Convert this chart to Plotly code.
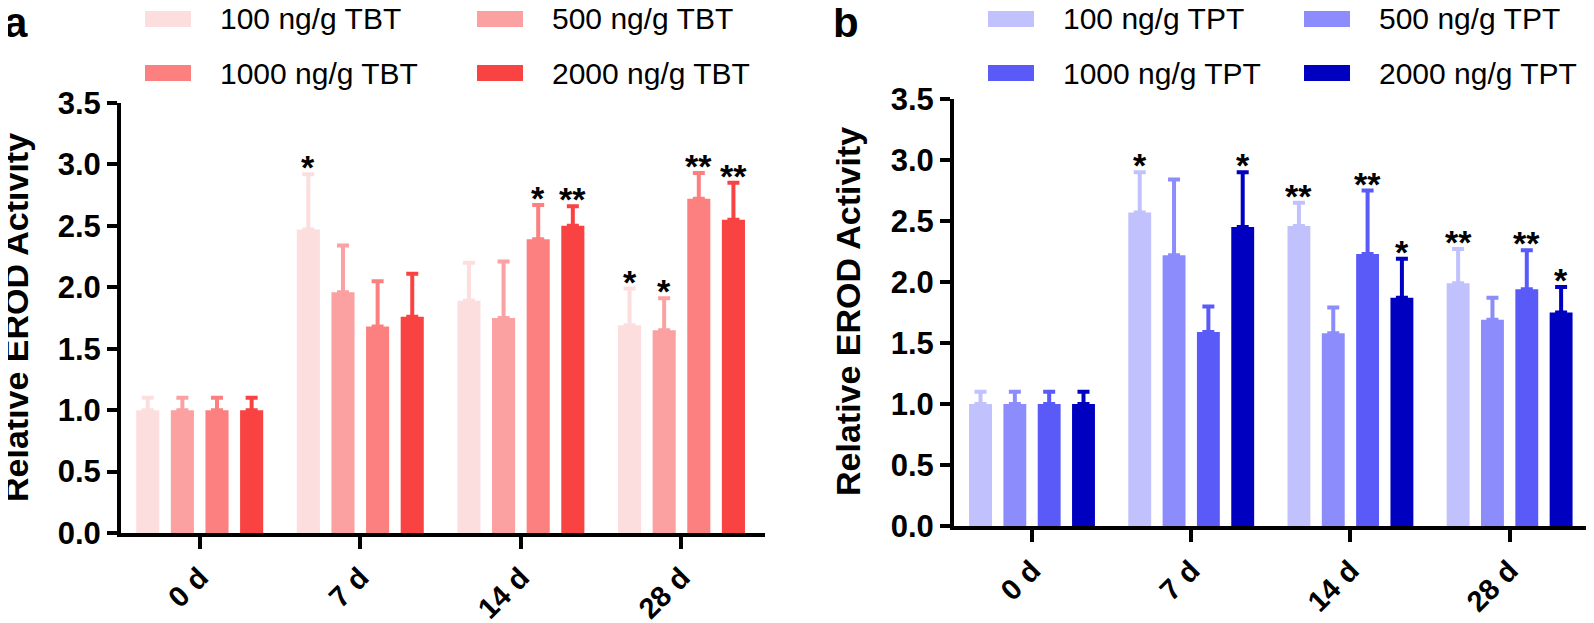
import plotly.graph_objects as go

# ---- data ----
days = ["0 d", "7 d", "14 d", "28 d"]

tbt_names = ["100 ng/g TBT", "500 ng/g TBT", "1000 ng/g TBT", "2000 ng/g TBT"]
tbt_colors = ["#FDDEDF", "#FBA1A1", "#FC8080", "#F94242"]
tbt_mean = [
    [1.00, 2.47, 1.89, 1.69],
    [1.00, 1.96, 1.75, 1.65],
    [1.00, 1.68, 2.39, 2.72],
    [1.00, 1.76, 2.50, 2.55],
]
tbt_err = [
    [0.10, 0.45, 0.31, 0.30],
    [0.10, 0.38, 0.46, 0.26],
    [0.10, 0.37, 0.28, 0.21],
    [0.10, 0.35, 0.16, 0.30],
]
tbt_sig = [
    ["", "*", "", "*"],
    ["", "", "", "*"],
    ["", "", "*", "**"],
    ["", "", "**", "**"],
]

tpt_names = ["100 ng/g TPT", "500 ng/g TPT", "1000 ng/g TPT", "2000 ng/g TPT"]
tpt_colors = ["#C1C1FD", "#8C8CFC", "#5A5AF9", "#0000C0"]
tpt_mean = [
    [1.00, 2.57, 2.46, 1.99],
    [1.00, 2.22, 1.58, 1.69],
    [1.00, 1.59, 2.23, 1.94],
    [1.00, 2.45, 1.87, 1.75],
]
tpt_err = [
    [0.10, 0.33, 0.19, 0.28],
    [0.10, 0.62, 0.21, 0.18],
    [0.10, 0.21, 0.52, 0.32],
    [0.10, 0.45, 0.32, 0.21],
]
tpt_sig = [
    ["", "*", "**", "**"],
    ["", "", "", ""],
    ["", "", "**", "**"],
    ["", "*", "*", "*"],
]

W, H = 1594, 623
OFF = 8  # page body margin offsets the figure
FONT = "Liberation Sans, Arial, sans-serif"
PITCH = 0.2156  # slot width of one bar inside a group (category units)
xpos = list(range(len(days)))


def px(x):
    return (x - OFF) / W


def py(y):
    return 1 - (y - OFF) / H


fig = go.Figure()
annotations = []
shapes = []


def add_panel(names, colors, means, errs, sigs, xa, ya, leg_x, leg_y, label, label_xy):
    for j, (nm, col, m, e) in enumerate(zip(names, colors, means, errs)):
        fig.add_trace(go.Bar(
            x=xpos, y=m, name=nm, marker=dict(color=col, line=dict(width=0)),
            error_y=dict(type="data", array=e, arrayminus=[0] * len(e), symmetric=False,
                         color=col, thickness=4, width=6),
            xaxis=xa, yaxis=ya, showlegend=False,
        ))
        for i, s in enumerate(sigs[j]):
            if s:
                annotations.append(dict(
                    x=i + (j - 1.5) * PITCH, y=m[i] + e[i], xref=xa, yref=ya,
                    text=f"<b>{s}</b>", showarrow=False, yanchor="bottom",
                    yshift=-14, font=dict(size=34, color="black", family=FONT),
                ))
        # legend entry (2 x 2 grid)
        col_i, row_i = j % 2, j // 2
        sx = leg_x[col_i]
        sy = leg_y[row_i]
        shapes.append(dict(type="rect", xref="paper", yref="paper",
                           x0=px(sx), x1=px(sx + 46),
                           y0=py(sy + 8), y1=py(sy - 8),
                           fillcolor=col, line=dict(width=0)))
        annotations.append(dict(x=px(sx + 73), y=py(sy), xref="paper", yref="paper",
                                text=nm, showarrow=False, xanchor="left", yanchor="middle",
                                font=dict(size=30, color="black", family=FONT)))
    annotations.append(dict(x=px(label_xy[0]), y=py(label_xy[1]), xref="paper", yref="paper",
                            text=f"<b>{label}</b>", showarrow=False, xanchor="center",
                            yanchor="middle", font=dict(size=42, color="black", family=FONT)))


add_panel(tbt_names, tbt_colors, tbt_mean, tbt_err, tbt_sig, "x", "y",
          [145, 477], [19, 73], "a", (16, 22))
add_panel(tpt_names, tpt_colors, tpt_mean, tpt_err, tpt_sig, "x2", "y2",
          [988, 1304], [19, 73], "b", (846, 22))

# y-axis titles
for xc, yc in [(16, 318), (848, 312)]:
    annotations.append(dict(x=px(xc), y=py(yc), xref="paper", yref="paper",
                            text="<b>Relative EROD Activity</b>", showarrow=False,
                            textangle=-90, xanchor="center", yanchor="middle",
                            font=dict(size=34, color="black", family=FONT)))

xaxis_style = dict(
    tickvals=xpos, ticktext=[f"<b>{d}</b>" for d in days], tickangle=-45,
    showline=True, linewidth=4, linecolor="black", ticks="outside", ticklen=12,
    tickwidth=4, tickcolor="black", showgrid=False, zeroline=False, automargin=False,
    tickfont=dict(size=29, color="black", family=FONT),
)
yaxis_style = dict(
    range=[0, 3.5], tickvals=[0, 0.5, 1, 1.5, 2, 2.5, 3, 3.5],
    ticktext=["<b>%.1f</b>" % v for v in [0, 0.5, 1, 1.5, 2, 2.5, 3, 3.5]],
    showline=True, linewidth=4, linecolor="black", ticks="outside", ticklen=10,
    tickwidth=4, tickcolor="black", showgrid=False, zeroline=False, automargin=False,
    tickfont=dict(size=31, color="black", family=FONT),
)

fig.update_layout(
    width=W, height=H,
    margin=dict(l=0, r=0, t=0, b=0, autoexpand=False),
    paper_bgcolor="white", plot_bgcolor="white",
    barmode="group", bargap=0.1375, bargroupgap=0.333,
    xaxis=dict(domain=[px(121), px(765)], range=[-0.49, 3.52], anchor="y", **xaxis_style),
    yaxis=dict(domain=[py(533), py(103)], anchor="x", **yaxis_style),
    xaxis2=dict(domain=[px(954), px(1594)], range=[-0.49, 3.53], anchor="y2", **xaxis_style),
    yaxis2=dict(domain=[py(526), py(99)], anchor="x2", **yaxis_style),
    annotations=annotations,
    shapes=shapes,
    font=dict(family=FONT, color="black"),
)

fig.write_html("out.html")
